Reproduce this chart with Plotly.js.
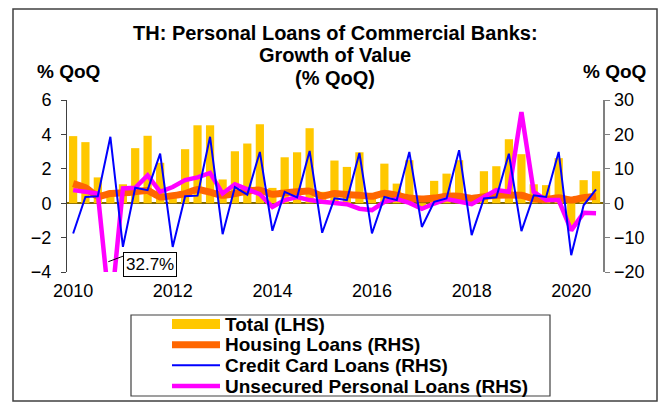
<!DOCTYPE html>
<html><head><meta charset="utf-8">
<script src="https://cdn.plot.ly/plotly-3.0.1.min.js"></script>
<style>html,body{margin:0;padding:0;background:#fff;}#chart{width:665px;height:403px;}</style>
</head><body><div id="chart"></div>
<script>
const quarters = ['2010-01-01','2010-04-01','2010-07-01','2010-10-01','2011-01-01','2011-04-01','2011-07-01','2011-10-01',
'2012-01-01','2012-04-01','2012-07-01','2012-10-01','2013-01-01','2013-04-01','2013-07-01','2013-10-01',
'2014-01-01','2014-04-01','2014-07-01','2014-10-01','2015-01-01','2015-04-01','2015-07-01','2015-10-01',
'2016-01-01','2016-04-01','2016-07-01','2016-10-01','2017-01-01','2017-04-01','2017-07-01','2017-10-01',
'2018-01-01','2018-04-01','2018-07-01','2018-10-01','2019-01-01','2019-04-01','2019-07-01','2019-10-01',
'2020-01-01','2020-04-01','2020-07-01'];
const total = [3.9,3.55,1.5,0.4,1.1,3.2,3.92,2.35,0.3,3.14,4.53,4.53,1.38,3.02,3.47,4.59,0.89,2.67,2.96,4.36,
0.66,2.48,2.11,2.96,0.3,2.3,1.14,2.5,-0.2,1.3,1.72,2.5,0.4,1.86,2.15,3.72,2.85,1.1,1.05,2.62,-1.38,1.34,1.86];
const housing = [5.7,4.5,2.0,2.8,3.0,3.3,3.7,1.8,2.2,2.8,4.0,3.2,2.3,2.8,3.5,3.8,2.6,3.0,3.3,3.5,
2.1,2.8,2.5,2.3,2.0,2.9,2.3,1.5,1.2,1.5,2.0,2.0,1.4,1.9,2.3,2.4,2.3,1.3,1.1,1.6,0.9,1.6,2.0];
const creditCard = [-8.8,1.8,2.0,19.3,-12.7,4.5,3.8,14.4,-12.7,2.0,2.2,19.3,-9.0,4.7,2.5,14.9,-8.0,3.3,1.7,15.2,
-8.6,1.4,0.9,14.6,-8.8,1.8,0.9,14.9,-6.9,0.4,1.4,15.4,-9.3,1.4,1.7,14.4,-8.1,2.3,1.8,14.9,-15.1,-0.6,4.0];
const unsecured = [3.8,3.3,2.8,-32.7,4.3,4.5,8.1,3.3,4.7,6.7,7.5,8.8,2.8,5.5,4.1,2.6,-1.1,0.9,1.8,0.9,
0.4,0.1,-0.3,-1.6,-2.0,0.4,1.2,0.1,-1.6,-0.1,1.2,0.5,-0.3,1.8,3.8,3.3,26.5,3.3,0.9,0.9,-7.9,-2.8,-2.9];
const seriesNames = ['Total (LHS)','Housing Loans (RHS)','Credit Card Loans (RHS)','Unsecured Personal Loans (RHS)'];
const seriesColors = ['#FFC800','#FF6600','#0000FF','#FF00FF'];
const titleLines = ['TH: Personal Loans of Commercial Banks:','Growth of Value','(% QoQ)'];
const axisTitle = '% QoQ';
const yearTicks = ['2010-01-01','2012-01-01','2014-01-01','2016-01-01','2018-01-01','2020-01-01'];
const yearLabels = ['2010','2012','2014','2016','2018','2020'];
const calloutText = '32.7%';

const FONT = 'Liberation Sans, Arial, sans-serif';
const traces = [
  {type:'bar', x:quarters, y:total, name:seriesNames[0], yaxis:'y', marker:{color:seriesColors[0]}},
  {type:'scatter', mode:'lines', x:quarters, y:housing, name:seriesNames[1], yaxis:'y2',
   line:{color:seriesColors[1], width:7, shape:'spline', smoothing:0.5}},
  {type:'scatter', mode:'lines', x:quarters, y:unsecured, name:seriesNames[3], yaxis:'y2',
   line:{color:seriesColors[3], width:4.5}},
  {type:'scatter', mode:'lines', x:quarters, y:creditCard, name:seriesNames[2], yaxis:'y2',
   line:{color:seriesColors[2], width:2}}
];

// paper-coordinate helpers (plot area: x 67..603 px, y 100..272 px)
const px = v => (v - 67) / 536;
const py = v => (272 - v) / 172;

const annotations = [];
const titleY = [32.5, 55, 77.5];
titleLines.forEach((t, i) => annotations.push({text:'<b>'+t+'</b>', xref:'paper', yref:'paper', x:0.5, y:py(titleY[i]),
  xanchor:'center', yanchor:'middle', showarrow:false, font:{size:20}, borderpad:0}));
annotations.push({text:'<b>'+axisTitle+'</b>', xref:'paper', yref:'paper', x:px(68.5), y:py(72), xanchor:'center', yanchor:'middle', showarrow:false, font:{size:19}, borderpad:0});
annotations.push({text:'<b>'+axisTitle+'</b>', xref:'paper', yref:'paper', x:px(614), y:py(72), xanchor:'center', yanchor:'middle', showarrow:false, font:{size:19}, borderpad:0});
annotations.push({text:calloutText, xref:'paper', yref:'paper', x:px(150), y:py(264), xanchor:'center', yanchor:'middle', showarrow:false,
  font:{size:17}, bgcolor:'#fff', bordercolor:'#000', borderwidth:1, borderpad:2});

const shapes = [
  {type:'line', xref:'paper', yref:'paper', x0:px(108.3), y0:py(261.7), x1:px(123.5), y1:py(256), line:{color:'#000', width:1}},
  {type:'rect', xref:'paper', yref:'paper', x0:px(131), x1:px(550), y0:py(315), y1:py(396), line:{color:'#404040', width:1.2}},
  {type:'rect', xref:'paper', yref:'paper', x0:px(13), x1:px(657), y0:py(401), y1:py(9), line:{color:'#404040', width:1.5}}
];
// custom legend
const rowY = [324, 344.7, 365.3, 386];
const legendOrder = [0,1,2,3];
const swatchW = [0, 7, 2, 4.5];
legendOrder.forEach((k, i) => {
  annotations.push({text:'<b>'+seriesNames[k]+'</b>', xref:'paper', yref:'paper', x:px(224), y:py(rowY[i]),
    xanchor:'left', yanchor:'middle', showarrow:false, font:{size:19}, borderpad:0});
  if (k === 0) {
    shapes.push({type:'rect', xref:'paper', yref:'paper', x0:px(172), x1:px(220), y0:py(rowY[i]-5), y1:py(rowY[i]+5),
      fillcolor:seriesColors[0], line:{width:0}});
  } else {
    shapes.push({type:'line', xref:'paper', yref:'paper', x0:px(172), x1:px(220), y0:py(rowY[i]), y1:py(rowY[i]),
      line:{color:seriesColors[k], width:swatchW[k]}});
  }
});

const layout = {
  width:665, height:403,
  margin:{l:67, r:62, t:100, b:131},
  paper_bgcolor:'#fff', plot_bgcolor:'rgba(0,0,0,0)',
  font:{family:FONT, color:'#000', size:17},
  bargap:0.33,
  showlegend:false,
  xaxis:{type:'date', range:['2009-11-17','2020-08-21'], tickvals:yearTicks, ticktext:yearLabels,
    showgrid:false, zeroline:false, showline:false, ticks:'', tickfont:{size:18}, ticklabelstandoff:6},
  yaxis:{range:[-4,6], dtick:2, showgrid:false, zeroline:true, zerolinecolor:'#806600', zerolinewidth:2,
    showline:true, linecolor:'#404040', linewidth:1, ticks:'outside', ticklen:5, tickcolor:'#404040', tickfont:{size:18},
    ticklabelstandoff:6},
  yaxis2:{range:[-20,30], dtick:10, overlaying:'y', side:'right', showgrid:false, zeroline:false,
    showline:true, linecolor:'#808080', linewidth:1.5, ticks:'outside', ticklen:5, tickcolor:'#808080', tickfont:{size:18},
    ticklabelstandoff:1},
  annotations, shapes
};
Plotly.newPlot('chart', traces, layout, {staticPlot:true, displayModeBar:false});
</script></body></html>
